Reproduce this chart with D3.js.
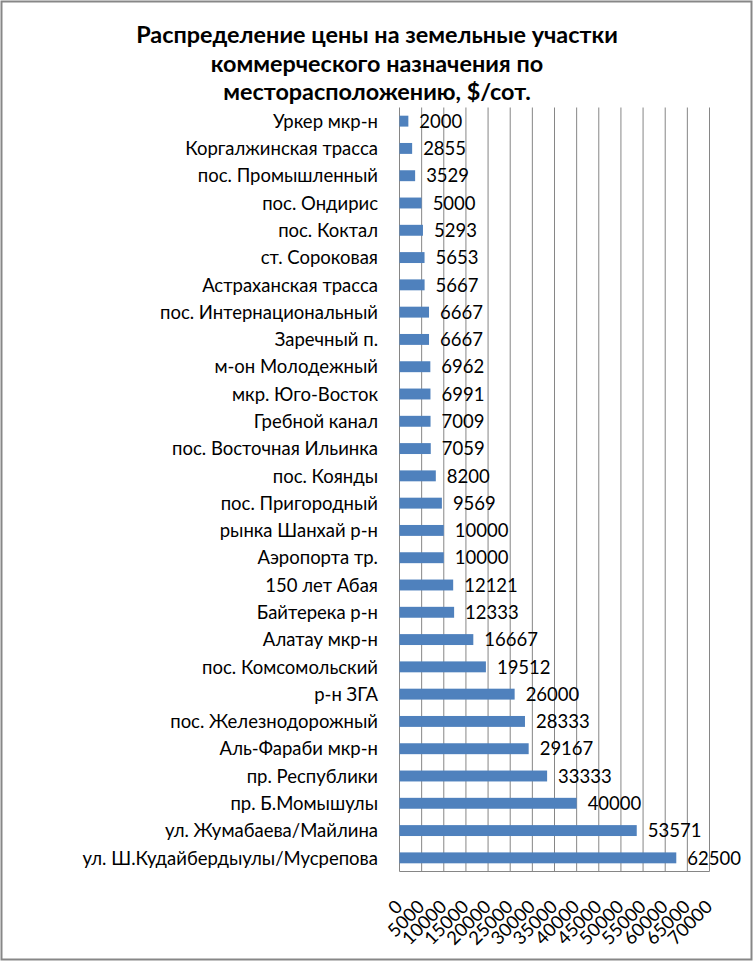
<!DOCTYPE html>
<html>
<head>
<meta charset="utf-8">
<script src="https://cdn.jsdelivr.net/npm/d3@7"></script>
<style>
  body { margin: 0; background: #fff; }
  svg { display: block; }
  text { font-family: Lato, "Open Sans", sans-serif; fill: #000; }
</style>
</head>
<body>
<svg width="754" height="963"></svg>
<script>
const titleLines = [
  "Распределение цены на земельные участки",
  "коммерческого назначения по",
  "месторасположению, $/сот."
];

const categories = [
  "Уркер мкр-н", "Коргалжинская трасса", "пос. Промышленный", "пос. Ондирис",
  "пос. Коктал", "ст. Сороковая", "Астраханская трасса", "пос. Интернациональный",
  "Заречный п.", "м-он Молодежный", "мкр. Юго-Восток", "Гребной канал",
  "пос. Восточная Ильинка", "пос. Коянды", "пос. Пригородный", "рынка Шанхай р-н",
  "Аэропорта тр.", "150 лет Абая", "Байтерека р-н", "Алатау мкр-н",
  "пос. Комсомольский", "р-н ЗГА", "пос. Железнодорожный", "Аль-Фараби мкр-н",
  "пр. Республики", "пр. Б.Момышулы", "ул. Жумабаева/Майлина", "ул. Ш.Кудайбердыулы/Мусрепова"
];

const prices = [
  2000, 2855, 3529, 5000, 5293, 5653, 5667, 6667,
  6667, 6962, 6991, 7009, 7059, 8200, 9569, 10000,
  10000, 12121, 12333, 16667, 19512, 26000, 28333, 29167,
  33333, 40000, 53571, 62500
];

const xTicks = d3.range(0, 70001, 5000);

const svg = d3.select("svg");
const plot = { left: 399.5, right: 709.5, top: 107.5, bottom: 871.5 };
const gridColor = "#868686";
const barColor = "#4f81bd";
const labelSize = "18.5px";

// outer frame
svg.append("rect")
  .attr("x", 1.5).attr("y", 1.5)
  .attr("width", 750).attr("height", 958)
  .attr("fill", "#fff")
  .attr("stroke", "#878787")
  .attr("stroke-width", 2);

// title
svg.append("g").selectAll("text")
  .data(titleLines)
  .enter()
  .append("text")
  .attr("x", 377)
  .attr("y", (d, i) => 43 + i * 28.5)
  .attr("text-anchor", "middle")
  .style("font-size", "23.4px")
  .style("font-weight", "bold")
  .text(d => d);

const x = d3.scaleLinear().domain([0, 70000]).range([plot.left, plot.right]);
const y = d3.scaleBand().domain(categories).range([plot.top, plot.bottom])
  .paddingInner(0.6).paddingOuter(0.3);

// vertical gridlines
svg.append("g").selectAll("line")
  .data(xTicks)
  .enter()
  .append("line")
  .attr("x1", d => x(d)).attr("x2", d => x(d))
  .attr("y1", plot.top).attr("y2", plot.bottom)
  .attr("stroke", gridColor)
  .attr("stroke-width", 1);

// bottom axis line
svg.append("line")
  .attr("x1", plot.left).attr("x2", plot.right)
  .attr("y1", plot.bottom).attr("y2", plot.bottom)
  .attr("stroke", gridColor);

// bars
svg.append("g").selectAll("rect")
  .data(categories)
  .enter()
  .append("rect")
  .attr("x", x(0))
  .attr("y", d => y(d))
  .attr("width", (d, i) => x(prices[i]) - x(0))
  .attr("height", y.bandwidth())
  .attr("fill", barColor);

// value labels
svg.append("g").selectAll("text")
  .data(categories)
  .enter()
  .append("text")
  .attr("x", (d, i) => x(prices[i]) + 11)
  .attr("y", d => y(d) + y.bandwidth() / 2)
  .attr("dy", "0.36em")
  .style("font-size", labelSize)
  .text((d, i) => prices[i]);

// category labels
svg.append("g").selectAll("text")
  .data(categories)
  .enter()
  .append("text")
  .attr("x", 378)
  .attr("y", d => y(d) + y.bandwidth() / 2)
  .attr("dy", "0.36em")
  .attr("text-anchor", "end")
  .style("font-size", labelSize)
  .text(d => d);

// x tick labels, rotated
svg.append("g").selectAll("text")
  .data(xTicks)
  .enter()
  .append("text")
  .attr("transform", d => `translate(${x(d) + 4},908) rotate(-45)`)
  .attr("text-anchor", "end")
  .style("font-size", labelSize)
  .text(d => d);
</script>
</body>
</html>
